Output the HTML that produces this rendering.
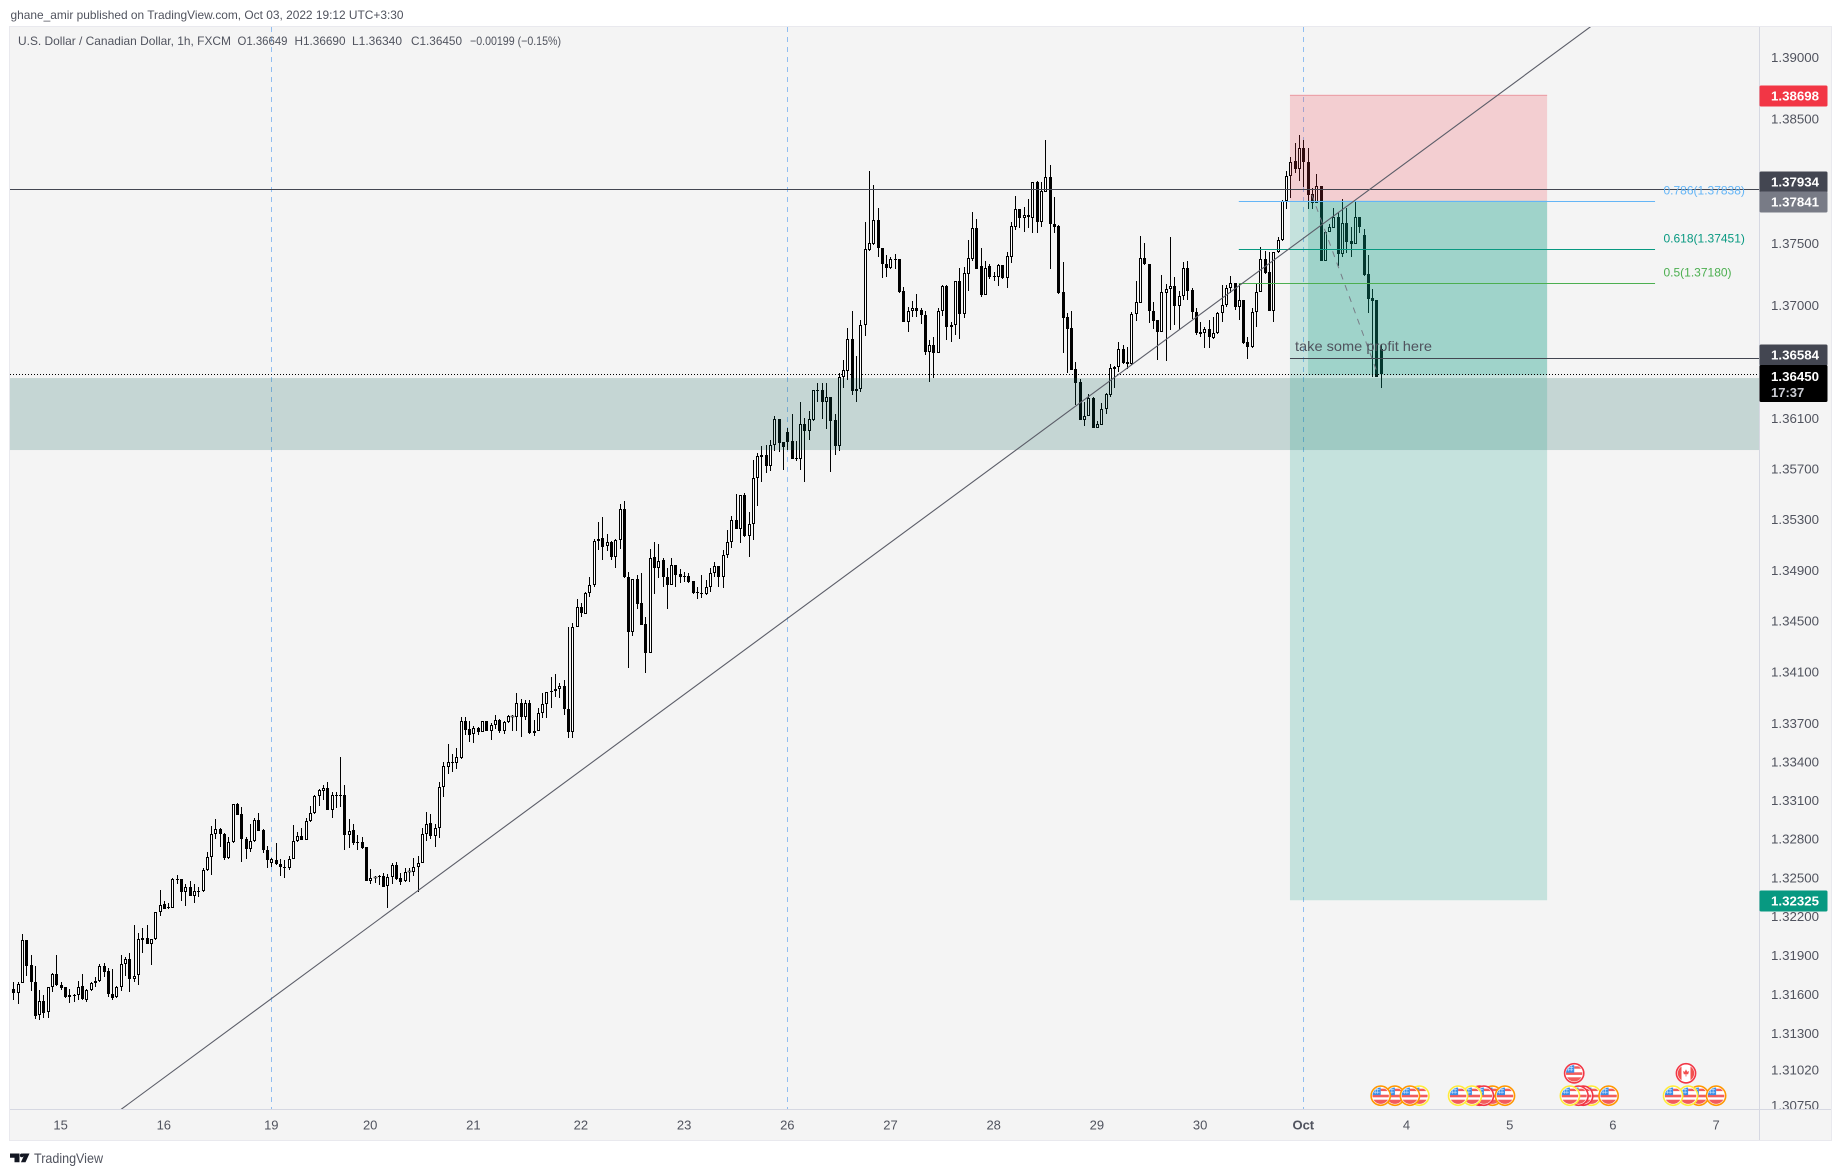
<!DOCTYPE html>
<html lang="en">
<head>
<meta charset="utf-8">
<title>USD/CAD 1h chart</title>
<style>
html,body{margin:0;padding:0;background:#fff;width:1841px;height:1176px;overflow:hidden}
svg{display:block;font-family:"Liberation Sans",Arial,sans-serif}
</style>
</head>
<body>
<svg id="chart" xmlns="http://www.w3.org/2000/svg" width="1841" height="1176" viewBox="0 0 1841 1176">
  <defs>
    <clipPath id="plot-clip"><rect x="10" y="27" width="1749.5" height="1082"></rect></clipPath>
    <clipPath id="flag-clip"><circle cx="0" cy="0" r="8.2"></circle></clipPath>
    <clipPath id="axis-clip"><rect x="1760" y="27" width="71" height="1082"></rect></clipPath>
  </defs>
  <text x="10.5" y="19" font-size="12" fill="#50535e" textLength="393" lengthAdjust="spacingAndGlyphs">ghane_amir published on TradingView.com, Oct 03, 2022 19:12 UTC+3:30</text>
  <rect x="9.5" y="26.5" width="1822" height="1114" fill="#f4f4f4" stroke="#e9e9ee" stroke-width="1"></rect>
  <g id="vlines" clip-path="url(#plot-clip)"></g>
  <g id="candles" clip-path="url(#plot-clip)"></g>
  <g id="drawings" clip-path="url(#plot-clip)"></g>
  <g id="events"></g>
  <line x1="10" y1="1109.5" x2="1831" y2="1109.5" stroke="#d6d8e2"></line>
  <line x1="1759.5" y1="27" x2="1759.5" y2="1140" stroke="#d6d8e2"></line>
  <g id="price-axis" clip-path="url(#axis-clip)"></g>
  <g id="time-axis"></g>
  <g id="badges"></g>
  <g font-size="12" fill="#50535e">
    <text x="18" y="45" textLength="213" lengthAdjust="spacingAndGlyphs">U.S. Dollar / Canadian Dollar, 1h, FXCM</text>
    <text x="237.5" y="45" textLength="50" lengthAdjust="spacingAndGlyphs">O1.36649</text>
    <text x="294.5" y="45" textLength="51" lengthAdjust="spacingAndGlyphs">H1.36690</text>
    <text x="352" y="45" textLength="50" lengthAdjust="spacingAndGlyphs">L1.36340</text>
    <text x="411" y="45" textLength="51" lengthAdjust="spacingAndGlyphs">C1.36450</text>
    <text x="470" y="45" textLength="91" lengthAdjust="spacingAndGlyphs">−0.00199 (−0.15%)</text>
  </g>
  <g>
    <path d="M10 1153.5h9.5v8.8h-5v-4.6h-4.5z M22.5 1153.5h7l-4 8.8h-4.6l2.8-6z" fill="#131722"></path>
    <circle cx="21.8" cy="1155.4" r="1.9" fill="#131722"></circle>
    <text x="34" y="1163" font-size="14" fill="#50535e" textLength="69" lengthAdjust="spacingAndGlyphs">TradingView</text>
  </g>
</svg>
<script>
const opens=[1.31641,1.3161,1.31687,1.32019,1.31826,1.31695,1.31441,1.31548,1.31464,1.31656,1.31756,1.31672,1.31656,1.31595,1.31595,1.31595,1.31664,1.31556,1.31633,1.31687,1.31702,1.31818,1.31779,1.31602,1.31579,1.31656,1.31833,1.31872,1.31718,1.31749,1.32035,1.32035,1.31988,1.32027,1.32235,1.32296,1.32273,1.32265,1.3249,1.3249,1.32389,1.32428,1.32358,1.32397,1.32397,1.3256,1.3266,1.32838,1.32878,1.32838,1.32653,1.32776,1.33071,1.32994,1.328,1.32723,1.32784,1.32947,1.3287,1.32715,1.32613,1.32637,1.32605,1.32582,1.32576,1.32645,1.32784,1.32823,1.32792,1.32939,1.33001,1.33133,1.33172,1.33195,1.33025,1.3314,1.3314,1.3314,1.32831,1.3287,1.32776,1.32776,1.32738,1.32474,1.32498,1.32514,1.32514,1.32436,1.32506,1.32598,1.32498,1.32474,1.32545,1.32545,1.32583,1.32613,1.32838,1.32924,1.32823,1.32886,1.33203,1.33358,1.33397,1.33389,1.33429,1.33717,1.33655,1.33616,1.33662,1.33631,1.33717,1.33639,1.33686,1.33725,1.33639,1.33709,1.33748,1.33748,1.33858,1.33748,1.33858,1.33623,1.33639,1.3378,1.3385,1.33952,1.33952,1.33967,1.33991,1.33811,1.33631,1.34454,1.3461,1.34556,1.34721,1.34784,1.3513,1.35154,1.3509,1.35122,1.35004,1.35138,1.35382,1.34847,1.34414,1.34831,1.34642,1.34477,1.3425,1.35004,1.34918,1.3498,1.34847,1.34784,1.3494,1.3487,1.34854,1.34854,1.34815,1.34728,1.34721,1.34713,1.34768,1.34878,1.34933,1.34847,1.35019,1.35122,1.35295,1.35225,1.35492,1.3517,1.35263,1.35628,1.3581,1.3581,1.35722,1.35889,1.36095,1.35913,1.35992,1.35921,1.35786,1.35778,1.36056,1.36,1.36087,1.36326,1.36326,1.3623,1.3627,1.36087,1.35881,1.3643,1.36477,1.36733,1.36318,1.36334,1.36844,1.37445,1.37494,1.37686,1.37461,1.37333,1.37301,1.37373,1.37373,1.37116,1.36868,1.36956,1.3698,1.36964,1.36924,1.36629,1.36685,1.36621,1.36956,1.37156,1.36828,1.36844,1.37196,1.36932,1.37253,1.37373,1.37622,1.37317,1.37084,1.37317,1.37237,1.37229,1.37325,1.37221,1.37389,1.3763,1.37775,1.37702,1.3771,1.37702,1.37992,1.3767,1.37912,1.38033,1.37654,1.37638,1.37108,1.36908,1.3682,1.36493,1.3639,1.36087,1.36119,1.36262,1.36024,1.36047,1.36175,1.36286,1.36493,1.36509,1.36653,1.36549,1.36533,1.36932,1.3702,1.37381,1.37333,1.36956,1.36884,1.36788,1.371,1.37132,1.37156,1.36996,1.37076,1.37301,1.37124,1.36948,1.36788,1.3678,1.36812,1.36741,1.3678,1.3694,1.37004,1.3714,1.3718,1.36988,1.37044,1.36709,1.36669,1.36948,1.37108,1.37373,1.37269,1.36956,1.37429,1.37526,1.37839,1.38041,1.38162,1.38097,1.38266,1.38154,1.37896,1.37823,1.3796,1.37357,1.3759,1.37622,1.3771,1.37413,1.37662,1.37518,1.37494,1.3771,1.37566,1.37253,1.3706,1.37044,1.36649];
const highs=[1.31695,1.31695,1.32065,1.32019,1.31903,1.31818,1.31633,1.31595,1.31656,1.31764,1.31903,1.31695,1.31656,1.31641,1.31602,1.31702,1.31756,1.31641,1.31695,1.31733,1.31833,1.31841,1.31802,1.31795,1.31664,1.31903,1.31887,1.31918,1.32135,1.32073,1.32112,1.32135,1.32027,1.32235,1.32405,1.32319,1.32304,1.32498,1.32521,1.3249,1.32451,1.32474,1.32451,1.32428,1.32576,1.32699,1.32899,1.32955,1.32886,1.32846,1.32816,1.33071,1.33079,1.33048,1.32816,1.32916,1.32963,1.33001,1.32878,1.32745,1.32653,1.32768,1.32645,1.32637,1.32668,1.32908,1.32854,1.32886,1.32963,1.33056,1.3314,1.33188,1.33217,1.33241,1.33164,1.33164,1.33437,1.33217,1.32955,1.32916,1.32831,1.32816,1.32738,1.32568,1.32514,1.32521,1.32537,1.32529,1.32613,1.32621,1.32537,1.32576,1.32576,1.32653,1.32668,1.32886,1.33009,1.32994,1.32916,1.33241,1.33397,1.33537,1.33459,1.33507,1.33749,1.33749,1.33717,1.33678,1.3367,1.33717,1.33717,1.33701,1.33764,1.33733,1.33717,1.33764,1.33764,1.33936,1.33889,1.33881,1.33881,1.33725,1.33819,1.33936,1.33944,1.34061,1.34085,1.34014,1.34038,1.34454,1.34485,1.34673,1.34642,1.34728,1.34847,1.35146,1.35279,1.35319,1.35185,1.3513,1.35146,1.35421,1.35445,1.34886,1.34831,1.34862,1.34878,1.34532,1.35067,1.35122,1.35106,1.34996,1.34918,1.34996,1.3494,1.3491,1.34886,1.34878,1.34815,1.34768,1.34862,1.34823,1.34918,1.34964,1.34933,1.35059,1.35217,1.35327,1.355,1.35492,1.35508,1.35358,1.3577,1.35825,1.35881,1.35889,1.35929,1.36119,1.36095,1.35913,1.36024,1.36135,1.35921,1.3623,1.36103,1.36159,1.36326,1.36382,1.36382,1.36382,1.3627,1.36135,1.36461,1.36565,1.3682,1.36956,1.36597,1.36884,1.3767,1.38081,1.37968,1.37783,1.37461,1.37405,1.37389,1.37413,1.37373,1.37148,1.36988,1.37036,1.37092,1.3698,1.36956,1.36725,1.36749,1.3698,1.37164,1.37164,1.36868,1.37196,1.37301,1.37309,1.37526,1.37751,1.37694,1.37461,1.37357,1.37333,1.37269,1.37333,1.37325,1.37429,1.3767,1.37879,1.37775,1.37791,1.37855,1.37992,1.38,1.37992,1.38331,1.3813,1.37871,1.37646,1.37349,1.3694,1.36956,1.36549,1.36414,1.3623,1.36294,1.3627,1.36079,1.36222,1.36302,1.36533,1.36517,1.36709,1.36685,1.36669,1.36948,1.37196,1.37558,1.37502,1.37333,1.37028,1.36884,1.37245,1.37172,1.3755,1.37228,1.37116,1.37349,1.37357,1.3714,1.3698,1.36868,1.36828,1.36884,1.36908,1.36948,1.37164,1.37164,1.37237,1.3718,1.37172,1.37044,1.36749,1.3698,1.3718,1.37469,1.37437,1.37429,1.37429,1.3755,1.37847,1.38081,1.38194,1.38307,1.38372,1.38331,1.38266,1.37944,1.38057,1.3796,1.37598,1.37654,1.37783,1.37743,1.37855,1.37783,1.3763,1.37839,1.3771,1.37614,1.37405,1.37132,1.37044,1.3669];
const lows=[1.31556,1.31525,1.31687,1.31741,1.31625,1.3141,1.31403,1.31418,1.31418,1.31618,1.31664,1.31633,1.31572,1.31533,1.31541,1.31556,1.31556,1.31541,1.31625,1.31656,1.31695,1.31733,1.31579,1.31556,1.31572,1.31625,1.31741,1.31618,1.31695,1.31672,1.31918,1.31988,1.31826,1.32019,1.32204,1.32258,1.32258,1.32265,1.32451,1.32319,1.32281,1.32358,1.32304,1.3235,1.32389,1.32552,1.32521,1.328,1.32738,1.32637,1.32645,1.32768,1.32986,1.32621,1.32645,1.32699,1.32776,1.32862,1.32691,1.32576,1.32582,1.32598,1.32514,1.32498,1.3256,1.32645,1.32776,1.32792,1.32792,1.32931,1.32994,1.33056,1.33102,1.33025,1.32963,1.3304,1.33048,1.32715,1.3273,1.32753,1.32715,1.32723,1.32474,1.32451,1.32459,1.32443,1.32428,1.32265,1.32451,1.32482,1.32443,1.32467,1.32467,1.32514,1.32389,1.32613,1.32784,1.328,1.32738,1.32808,1.33125,1.33304,1.33319,1.33343,1.33421,1.33608,1.33553,1.33545,1.33608,1.33631,1.33639,1.33569,1.33655,1.33623,1.33616,1.33701,1.33639,1.33639,1.33592,1.33725,1.33616,1.336,1.33639,1.3374,1.3374,1.33819,1.33905,1.33897,1.33764,1.33584,1.33584,1.34454,1.34532,1.34556,1.34689,1.34768,1.35059,1.3498,1.35051,1.3498,1.34918,1.35067,1.34839,1.34133,1.34383,1.34595,1.34469,1.34093,1.3425,1.34712,1.34839,1.34768,1.34595,1.34784,1.34768,1.34799,1.34807,1.34799,1.34712,1.34673,1.34681,1.34705,1.34728,1.34847,1.34768,1.3476,1.34996,1.35075,1.35225,1.35114,1.35162,1.35004,1.35138,1.35405,1.35596,1.35667,1.35683,1.35841,1.35833,1.35691,1.35849,1.35778,1.35762,1.35691,1.35596,1.35929,1.36079,1.3623,1.36095,1.36016,1.35675,1.3581,1.35841,1.36342,1.36406,1.36286,1.3623,1.3631,1.36757,1.37437,1.37485,1.37389,1.37221,1.37229,1.37293,1.37293,1.371,1.36868,1.36788,1.36908,1.36908,1.36852,1.36605,1.3639,1.36422,1.36621,1.36916,1.36725,1.36709,1.36765,1.36733,1.369,1.37116,1.37357,1.37293,1.37068,1.37084,1.37213,1.37196,1.37156,1.37213,1.3714,1.37341,1.37606,1.37622,1.3759,1.37622,1.37582,1.37582,1.3763,1.37912,1.37293,1.37582,1.37092,1.36621,1.36461,1.36485,1.36207,1.36087,1.36039,1.36119,1.36024,1.36032,1.36048,1.36135,1.3627,1.36342,1.36469,1.36533,1.36493,1.36525,1.36876,1.3702,1.37325,1.3686,1.36812,1.36565,1.36788,1.36557,1.36804,1.36844,1.36804,1.37044,1.37044,1.36892,1.36765,1.36749,1.36661,1.36661,1.36733,1.36772,1.36868,1.36988,1.371,1.36964,1.36884,1.36693,1.36573,1.36661,1.36828,1.37108,1.37253,1.36956,1.36868,1.37421,1.37518,1.37775,1.37863,1.38065,1.38,1.37952,1.37775,1.37775,1.37823,1.37357,1.37357,1.3759,1.37622,1.37317,1.37389,1.37421,1.37389,1.37494,1.37582,1.37237,1.3694,1.3643,1.3643,1.3634];
const closes=[1.3161,1.3168,1.32019,1.31818,1.31695,1.31434,1.31548,1.31457,1.31656,1.31756,1.31672,1.31649,1.31579,1.31579,1.31587,1.31656,1.31564,1.31633,1.31687,1.31702,1.31818,1.31772,1.31602,1.31572,1.31656,1.31833,1.31872,1.31718,1.31741,1.32027,1.32019,1.31988,1.32027,1.32235,1.32289,1.32258,1.32265,1.3249,1.32482,1.32389,1.32428,1.32358,1.32397,1.32389,1.3256,1.3266,1.32838,1.32878,1.32838,1.32653,1.32776,1.33071,1.32986,1.328,1.32723,1.32784,1.32947,1.32862,1.32715,1.32637,1.32645,1.32605,1.32582,1.32576,1.32645,1.32784,1.32823,1.32792,1.32939,1.33001,1.33133,1.3318,1.33195,1.33025,1.3314,1.33133,1.33133,1.32831,1.32862,1.32768,1.32768,1.3273,1.32474,1.32498,1.32506,1.32506,1.32428,1.32506,1.32598,1.3249,1.32467,1.32545,1.32553,1.32583,1.32613,1.32838,1.32916,1.32823,1.32886,1.33203,1.33366,1.33397,1.33389,1.33436,1.33717,1.33647,1.33608,1.33662,1.33631,1.33717,1.33639,1.33686,1.33725,1.33639,1.33709,1.33756,1.33756,1.33858,1.33748,1.33858,1.33623,1.33639,1.3378,1.3385,1.33944,1.33944,1.33967,1.33991,1.33811,1.33631,1.34454,1.3461,1.34564,1.34721,1.34784,1.3513,1.35146,1.35083,1.35122,1.35004,1.35138,1.35382,1.34847,1.34414,1.34831,1.34634,1.34469,1.3425,1.34996,1.34918,1.34972,1.34847,1.34784,1.3494,1.34862,1.34847,1.34847,1.34807,1.34721,1.34721,1.34713,1.34768,1.34878,1.34933,1.34847,1.35019,1.35122,1.35295,1.35225,1.35492,1.3517,1.35263,1.35628,1.35802,1.35794,1.35722,1.35889,1.36095,1.35905,1.35873,1.35913,1.35778,1.35778,1.36056,1.36,1.36095,1.36326,1.36318,1.3623,1.3627,1.36079,1.35881,1.3643,1.36485,1.36733,1.36318,1.36334,1.36844,1.37453,1.37502,1.37686,1.37461,1.37333,1.37301,1.37373,1.37365,1.37108,1.36868,1.36956,1.3698,1.36956,1.36924,1.36629,1.36685,1.36621,1.36956,1.37156,1.36828,1.36844,1.37196,1.36932,1.37261,1.37381,1.37622,1.37293,1.37084,1.37301,1.37229,1.37229,1.37325,1.37221,1.37397,1.37638,1.37775,1.37702,1.37726,1.37726,1.37992,1.3767,1.3792,1.38033,1.37654,1.3763,1.371,1.369,1.36812,1.36485,1.36382,1.36087,1.36119,1.36262,1.36024,1.36056,1.36175,1.36294,1.36501,1.36509,1.36653,1.36541,1.36533,1.36932,1.37028,1.37381,1.37333,1.36956,1.36876,1.36788,1.37108,1.37132,1.37156,1.36996,1.37076,1.37301,1.37116,1.36948,1.3678,1.36772,1.36812,1.36749,1.3678,1.3694,1.37004,1.3714,1.3718,1.36988,1.37044,1.36701,1.36669,1.36948,1.37108,1.37373,1.37261,1.36956,1.37429,1.37526,1.37839,1.38041,1.38154,1.38097,1.38266,1.38154,1.37887,1.37823,1.3796,1.37357,1.3759,1.3763,1.3771,1.37413,1.37662,1.3751,1.37494,1.3771,1.3763,1.37245,1.37052,1.37036,1.3643,1.3645];

const priceTicks=[1.39,1.385,1.375,1.37,1.361,1.357,1.353,1.349,1.345,1.341,1.337,1.334,1.331,1.328,1.325,1.322,1.319,1.316,1.313,1.3102,1.3075];
const timeTickBars=[11,35,60,83,107,132,156,180,204,228,252,276,300,324,348,372,396];
const timeTickLabels=['15','16','19','20','21','22','23','26','27','28','29','30','Oct','4','5','6','7'];
const sessionBars=[60,180,300];

const resistancePrice=1.37934;
const profitPrice=1.36584;
const lastPrice=1.3645;
const zonePrices=[1.36421,1.35849];
const positionPrices={stop:1.38698,entry:1.37841,target:1.32325};
const positionBars=[296.9,356.7];
const profitBoxBars=[301.1,356.7];
const profitBoxBottom=1.36445;
const trendBars=[47.3,299.2];
const trendPrices=[1.31258,1.37518];
const fibBars=[285,381.8];
const fibPrices=[1.37838,1.37451,1.3718];
const fibLabels=['0.786(1.37838)','0.618(1.37451)','0.5(1.37180)'];
const fibColors=['#64b5f6','#089981','#4caf50'];
const fibTrendBars=[302,317.4];
const fibTrendPrices=[1.37887,1.36445];

const badgePrices=[1.38698,1.37934,1.37841,1.36584,1.32325];
const badgeColors=['#f23645','#434651','#787b86','#434651','#089981'];

const eventBars=[327,321.3,324.8,318,344,346.9,341,342,339.2,336,367,365.1,364,362,371,363,392,389.5,386,396,389];
const eventRows=[0,0,0,0,0,0,0,0,0,0,0,0,0,0,0,1,0,0,0,0,1];
const eventCountry=['US','US','US','US','US','US','US','US','US','US','US','US','US','US','US','US','US','US','US','US','CA'];
const eventImpact=['low','med','med','med','med','med','high','high','low','low','low','high','high','low','med','high','med','low','low','med','high'];

const NS='http://www.w3.org/2000/svg';
const impactColor={low:'#ffeb3b',med:'#ff9800',high:'#f23645'};
const rowY=[1095.7,1073.3];
const plotLeft=10,plotRight=1759.5,plotTop=27,plotBottom=1109;

function xAt(i){return 13.3+4.3*i;}
function yAt(p){return 119+17129*Math.log(1.385/p);}
function make(tag,attrs,parent){
  const el=document.createElementNS(NS,tag);
  for(const k in attrs){el.setAttribute(k,attrs[k]);}
  parent.appendChild(el);
  return el;
}

const vlines=document.getElementById('vlines');
sessionBars.forEach(function(b){
  const x=Math.round(xAt(b))+0.5;
  const el=make('line',{x1:x,y1:plotTop,x2:x,y2:plotBottom,stroke:'#90bdf0','stroke-width':1,'stroke-dasharray':'5 5'},vlines);
  
  
});

const candles=document.getElementById('candles');
closes.forEach(function(c,i){
  const o=opens[i],h=highs[i],l=lows[i];
  const cx=Math.round(xAt(i));
  const up=c>=o;
  const yH=Math.round(yAt(h)),yL=Math.round(yAt(l));
  const yT=Math.round(yAt(Math.max(o,c))),yB=Math.round(yAt(Math.min(o,c)));
  const g=make('g',{},candles);
  
  
  const wick=make('rect',{x:cx,y:yH,width:1,height:Math.max(1,yL-yH),fill:'#000'},g);
  
  
  let body;
  if(up&&yB-yT>=2){
    body=make('rect',{x:cx-0.5,y:yT+0.5,width:2,height:yB-yT-1,fill:'#fff',stroke:'#000','stroke-width':1},g);
  }else{
    body=make('rect',{x:cx-1,y:yT,width:3,height:Math.max(1,yB-yT),fill:up?'#fff':'#000',stroke:up?'#000':'none','stroke-width':up?0.5:0},g);
  }
  
  
});

const drawings=document.getElementById('drawings');
function hline(price,x1,x2,stroke,name,dash){
  const y=Math.round(yAt(price))+0.5;
  const el=make('line',{x1:x1,y1:y,x2:x2,y2:y,stroke:stroke,'stroke-width':1},drawings);
  if(dash){el.setAttribute('stroke-dasharray',dash);}
  return el;
}

const zoneTop=yAt(zonePrices[0]),zoneBottom=yAt(zonePrices[1]);
const zone=make('rect',{x:plotLeft,y:zoneTop,width:plotRight-plotLeft,height:zoneBottom-zoneTop,fill:'rgb(9,94,84)','fill-opacity':0.2},drawings);



const px1=xAt(positionBars[0]),px2=xAt(positionBars[1]);
const yStop=yAt(positionPrices.stop),yEntry=yAt(positionPrices.entry),yTarget=yAt(positionPrices.target);
const stopBox=make('rect',{x:px1,y:yStop,width:px2-px1,height:yEntry-yStop,fill:'#f23645','fill-opacity':0.2},drawings);


const targetBox=make('rect',{x:px1,y:yEntry,width:px2-px1,height:yTarget-yEntry,fill:'#089981','fill-opacity':0.2},drawings);


const bx1=xAt(profitBoxBars[0]),bx2=xAt(profitBoxBars[1]);
const profitBox=make('rect',{x:bx1,y:yEntry,width:bx2-bx1,height:yAt(profitBoxBottom)-yEntry,fill:'#089981','fill-opacity':0.2},drawings);


const stopEdge=hline(positionPrices.stop,px1,px2,'#eba3aa');


const entryEdge=hline(positionPrices.entry,px1,px2,'#8b8e96');



const fx1=xAt(fibBars[0]),fx2=xAt(fibBars[1]);
fibPrices.forEach(function(p){
  const el=hline(p,fx1,fx2,fibColors[fibPrices.indexOf(p)]);
  
  
});

const resLine=hline(resistancePrice,plotLeft,plotRight,'#434651');


const profitLine=hline(profitPrice,px1,plotRight,'#434651');


const lastLine=hline(lastPrice,plotLeft,plotRight,'#000',null,'1 2');



const tx1=xAt(trendBars[0]),ty1=yAt(trendPrices[0]),tx2=xAt(trendBars[1]),ty2=yAt(trendPrices[1]);
const slope=(ty2-ty1)/(tx2-tx1);
const trend=make('line',{x1:100,y1:ty1+(100-tx1)*slope,x2:1620,y2:ty1+(1620-tx1)*slope,stroke:'#5b5d68','stroke-width':1.1},drawings);



const fibTrend=make('line',{x1:xAt(fibTrendBars[0]),y1:yAt(fibTrendPrices[0]),x2:xAt(fibTrendBars[1]),y2:yAt(fibTrendPrices[1]),stroke:'#787b86','stroke-width':1,'stroke-dasharray':'6 6'},drawings);



fibLabels.forEach(function(t,k){
  const el=make('text',{x:1663.5,y:yAt(fibPrices[k])-6.5,'font-size':12,fill:fibColors[k]},drawings);
  
  
  el.textContent=t;
});

const note=make('text',{x:1295,y:351,'font-size':14,fill:'#50535e',textLength:137,lengthAdjust:'spacingAndGlyphs'},drawings);


note.textContent='take some profit here';

const events=document.getElementById('events');
eventBars.forEach(function(b,k){
  const g=make('g',{transform:'translate('+xAt(b).toFixed(1)+','+rowY[eventRows[k]]+')'},events);
  
  
  make('circle',{cx:0,cy:0,r:9.6,fill:'#fff',stroke:impactColor[eventImpact[k]],'stroke-width':1.6},g);
  const f=make('g',{'clip-path':'url(#flag-clip)'},g);
  if(eventCountry[k]==='US'){
    make('rect',{x:0,y:-7,width:9,height:2.4,fill:'#f25c5c'},f);
    make('rect',{x:-9,y:-1,width:18,height:2.6,fill:'#f25c5c'},f);
    make('rect',{x:-9,y:4,width:18,height:5,fill:'#f25c5c'},f);
    make('rect',{x:-9,y:-9,width:9,height:8.4,fill:'#3d8fe8'},f);
    make('path',{d:'M-7-6h6M-7-3.5h6M-5.5-8v6M-3-8v6',stroke:'#cfe4fb','stroke-width':0.6,fill:'none'},f);
  }else{
    make('rect',{x:-9,y:-9,width:4.5,height:18,fill:'#f2504f'},f);
    make('rect',{x:4.5,y:-9,width:4.5,height:18,fill:'#f2504f'},f);
    make('path',{d:'M0-4L1.2-1.6 3-2.2 2.2 1 0.4 1V3.2H-0.4V1L-2.2 1-3-2.2-1.2-1.6Z',fill:'#f2504f'},f);
  }
});

const pa=document.getElementById('price-axis');
priceTicks.forEach(function(p){
  const el=make('text',{x:1771,y:yAt(p)+4.7,'font-size':13,fill:'#50535e',textLength:48,lengthAdjust:'spacingAndGlyphs'},pa);
  
  
  el.textContent=p.toFixed(5);
});

const ta=document.getElementById('time-axis');
timeTickBars.forEach(function(b,k){
  const el=make('text',{x:xAt(b),y:1129.5,'font-size':13,fill:'#50535e','text-anchor':'middle'},ta);
  
  
  if(timeTickLabels[k]==='Oct'){el.setAttribute('font-weight','bold');}
  el.textContent=timeTickLabels[k];
});

const badges=document.getElementById('badges');
const badgeNudge=[1,-7.5,1,-3,1];
badgePrices.forEach(function(p,k){
  const cy=Math.round(yAt(p)+badgeNudge[k]);
  const r=make('rect',{x:1759.5,y:cy-10.5,width:68,height:21,rx:1.5,fill:badgeColors[k]},badges);
  
  
  const t=make('text',{x:1771,y:cy+4.7,'font-size':13,fill:'#fff','font-weight':'bold',textLength:48,lengthAdjust:'spacingAndGlyphs'},badges);
  
  
  t.textContent=p.toFixed(5);
});
const lastBox=make('rect',{x:1759.5,y:365,width:68,height:37,rx:1.5,fill:'#000'},badges);


const lastText=make('text',{x:1771,y:381,'font-size':13,fill:'#fff','font-weight':'bold',textLength:48,lengthAdjust:'spacingAndGlyphs'},badges);


lastText.textContent=lastPrice.toFixed(5);
const countdown=make('text',{x:1771,y:397,'font-size':13,fill:'#c9cbd2','font-weight':'bold'},badges);


countdown.textContent='17:37';
</script>
</body>
</html>
